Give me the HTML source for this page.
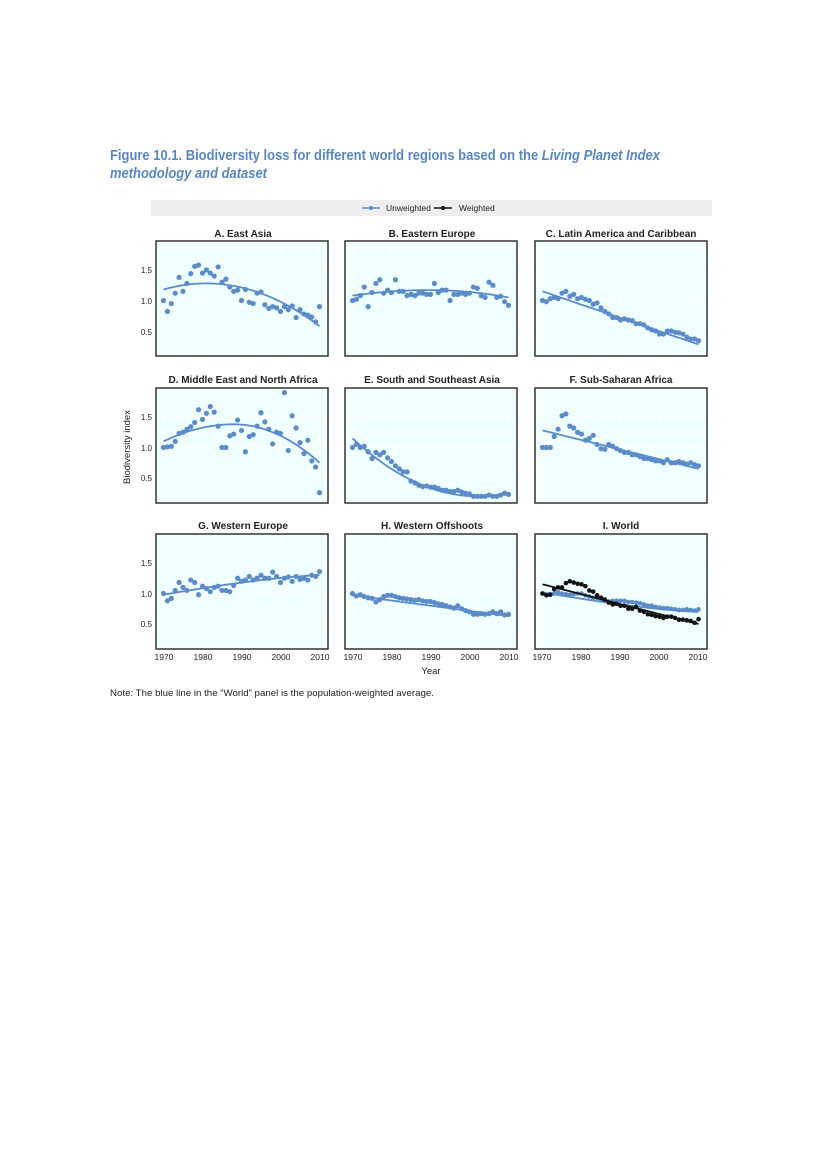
<!DOCTYPE html>
<html><head><meta charset="utf-8">
<style>
body{margin:0;background:#fff;}
svg{display:block;}
text{font-family:"Liberation Sans",sans-serif;}
</style></head>
<body>
<svg id="s" width="827" height="1169" xmlns="http://www.w3.org/2000/svg">
<text x="110" y="160" font-size="14.5" font-weight="bold" fill="#5a86c0" textLength="550" lengthAdjust="spacingAndGlyphs">Figure 10.1. Biodiversity loss for different world regions based on the <tspan font-style="italic">Living Planet Index</tspan></text>
<text x="110" y="178" font-size="14.5" font-weight="bold" font-style="italic" fill="#5a86c0" textLength="157" lengthAdjust="spacingAndGlyphs">methodology and dataset</text>
<rect x="151" y="200" width="561" height="16" fill="#eeeeee"/>
<line x1="362" y1="208" x2="380" y2="208" stroke="#5b8bc9" stroke-width="1.5"/><circle cx="371" cy="208" r="2" fill="#5b8bc9"/>
<text x="386" y="211" font-size="8.5" fill="#222">Unweighted</text>
<line x1="434" y1="208" x2="452" y2="208" stroke="#111" stroke-width="1.5"/><circle cx="443" cy="208" r="2" fill="#111"/>
<text x="459" y="211" font-size="8.5" fill="#222">Weighted</text>
<text x="130" y="447" font-size="9.5" fill="#222" text-anchor="middle" transform="rotate(-90 130 447)">Biodiversity index</text>
<text x="431" y="674" font-size="9.5" fill="#222" text-anchor="middle">Year</text>
<text x="110" y="696" font-size="9.5" fill="#222" textLength="324" lengthAdjust="spacingAndGlyphs">Note: The blue line in the “World” panel is the population-weighted average.</text>
<g id="titles" font-size="10" font-weight="bold" fill="#222" text-anchor="middle">
<text x="243" y="237">A. East Asia</text>
<text x="432" y="237">B. Eastern Europe</text>
<text x="621" y="237">C. Latin America and Caribbean</text>
<text x="243" y="383">D. Middle East and North Africa</text>
<text x="432" y="383">E. South and Southeast Asia</text>
<text x="621" y="383">F. Sub-Saharan Africa</text>
<text x="243" y="529">G. Western Europe</text>
<text x="432" y="529">H. Western Offshoots</text>
<text x="621" y="529">I. World</text>
</g>
<g font-size="8" fill="#222" text-anchor="end">
<text x="152" y="273">1.5</text><text x="152" y="304">1.0</text><text x="152" y="335">0.5</text>
<text x="152" y="420">1.5</text><text x="152" y="451">1.0</text><text x="152" y="481">0.5</text>
<text x="152" y="566">1.5</text><text x="152" y="597">1.0</text><text x="152" y="627">0.5</text>
</g>
<g font-size="8.5" fill="#222" text-anchor="middle">
<text x="164" y="660">1970</text><text x="203" y="660">1980</text><text x="242" y="660">1990</text><text x="281" y="660">2000</text><text x="320" y="660">2010</text>
<text x="353" y="660">1970</text><text x="392" y="660">1980</text><text x="431" y="660">1990</text><text x="470" y="660">2000</text><text x="509" y="660">2010</text>
<text x="542" y="660">1970</text><text x="581" y="660">1980</text><text x="620" y="660">1990</text><text x="659" y="660">2000</text><text x="698" y="660">2010</text>
</g>
<g id="plots"></g>
</svg>
<script>
var NS="http://www.w3.org/2000/svg",g=document.getElementById("plots");
var L=[156,345,535],T=[241,388,534];
function el(n,a){var e=document.createElementNS(NS,n);for(var k in a)e.setAttribute(k,a[k]);g.appendChild(e);return e;}
var B="#5b8bc9",K="#111";
var P=[
[0,0,[[1.0,.82,.95,1.12,1.38,1.15,1.28,1.44,1.56,1.58,1.45,1.5,1.45,1.4,1.55,1.3,1.35,1.22,1.15,1.17,1.0,1.18,.97,.95,1.12,1.14,.93,.87,.9,.88,.82,.9,.85,.91,.72,.85,.78,.76,.73,.65,.9],[1.18,1.28,.58,1981]]],
[0,1,[[1.0,1.02,1.08,1.22,.9,1.13,1.28,1.34,1.12,1.17,1.13,1.34,1.15,1.15,1.08,1.1,1.08,1.12,1.12,1.1,1.1,1.28,1.13,1.17,1.17,1.0,1.1,1.1,1.12,1.1,1.12,1.22,1.2,1.08,1.05,1.3,1.25,1.05,1.07,.98,.92],[1.08,1.17,1.05,1990]]],
[0,2,[[1.0,.98,1.03,1.05,1.03,1.12,1.15,1.07,1.1,1.03,1.05,1.02,1.0,.94,.96,.88,.82,.78,.72,.72,.68,.7,.68,.67,.62,.62,.6,.55,.52,.5,.45,.45,.5,.5,.48,.47,.45,.4,.37,.37,.34],[1.15,null,.28]]],
[1,0,[[1.0,1.01,1.02,1.1,1.23,1.25,1.3,1.34,1.41,1.62,1.46,1.56,1.67,1.58,1.35,1.0,1.0,1.19,1.22,1.45,1.28,.93,1.18,1.21,1.35,1.57,1.42,1.3,1.06,1.25,1.23,1.9,.95,1.52,1.32,1.08,.9,1.12,.78,.68,.26],[1.1,1.38,.75,1988]]],
[1,1,[[1.0,1.05,1.0,1.02,.93,.82,.92,.88,.92,.83,.77,.7,.65,.6,.6,.45,.42,.38,.36,.37,.35,.35,.33,.3,.3,.28,.28,.3,.27,.25,.24,.2,.2,.2,.2,.22,.2,.2,.22,.25,.23],[1.15,.2,.25,2002]]],
[1,2,[[1.0,1.0,1.0,1.18,1.3,1.52,1.55,1.35,1.32,1.25,1.22,1.12,1.15,1.2,1.05,.98,.97,1.05,1.02,.98,.95,.92,.92,.88,.88,.85,.82,.82,.8,.78,.78,.75,.8,.75,.75,.77,.75,.73,.75,.72,.7],[1.28,null,.65]]],
[2,0,[[1.0,.88,.92,1.05,1.18,1.1,1.05,1.22,1.18,.98,1.12,1.08,1.03,1.1,1.12,1.05,1.05,1.03,1.13,1.25,1.2,1.22,1.28,1.22,1.25,1.3,1.25,1.25,1.35,1.28,1.18,1.25,1.27,1.2,1.28,1.23,1.25,1.22,1.3,1.28,1.36],[.98,null,1.3,0,1]]],
[2,1,[[1.0,.96,.98,.95,.93,.92,.86,.9,.95,.97,.97,.95,.93,.92,.91,.9,.89,.9,.88,.87,.87,.85,.83,.82,.8,.78,.76,.8,.75,.72,.7,.66,.66,.67,.66,.67,.7,.67,.7,.65,.66],[.97,null,.63]]],
];
function q(fit,t){var a=fit[0],m=fit[1],b=fit[2];if(m===null){if(fit[4])return a+(b-a)*(1-Math.pow(1-t/40,1.4));return a+(b-a)*t/40;}var p=fit[3]-1970;
if(t<=p){var u=t/p;return m-(m-a)*(1-u)*(1-u);}var u=(t-p)/(40-p);return m-(m-b)*u*u;}
function draw(r,c,data,fit,col,rad){var l=L[c],tp=T[r];
var X=function(t){return l+7.5+t*3.9},Y=function(v){return tp+29+(1.5-v)*61};
var d="";for(var t=0;t<=40;t+=.5)d+=(t?"L":"M")+X(t).toFixed(1)+","+Y(q(fit,t)).toFixed(1);
el("path",{d:d,fill:"none",stroke:col,"stroke-width":1.8});
for(var i=0;i<data.length;i++)el("circle",{cx:X(i),cy:Y(data[i]),r:rad,fill:col});}
for(var r=0;r<3;r++)for(var c=0;c<3;c++){var l=L[c],tp=T[r];
el("rect",{x:l,y:tp,width:172,height:115,fill:"#f0ffff"});
for(var k=0;k<5;k++)el("line",{x1:l+7.5+k*39,x2:l+7.5+k*39,y1:tp,y2:tp+115,stroke:"#fff","stroke-width":1});
for(var k=0;k<3;k++)el("line",{x1:l,x2:l+172,y1:tp+29+k*30.5,y2:tp+29+k*30.5,stroke:"#fff","stroke-width":1});}
P.forEach(function(p){draw(p[0],p[1],p[2][0],p[2][1],B,2.6);});
var wb=[1.0,.98,.99,1.0,1.02,1.0,.99,.98,.99,1.0,1.0,.97,.95,.93,.93,.9,.88,.87,.88,.88,.88,.88,.86,.86,.85,.84,.82,.8,.8,.78,.77,.76,.76,.75,.74,.73,.73,.74,.73,.72,.74];
var wk=[1.0,.97,.98,1.07,1.1,1.1,1.17,1.2,1.18,1.16,1.15,1.12,1.05,1.03,.97,.93,.9,.85,.82,.83,.8,.8,.75,.75,.78,.72,.7,.66,.65,.63,.62,.6,.62,.62,.6,.57,.57,.56,.55,.52,.58];
draw(2,2,wb,[1.02,null,.7,0,1],B,2.3);
draw(2,2,wk,[1.15,null,.5],K,2.3);
for(var r=0;r<3;r++)for(var c=0;c<3;c++)el("rect",{x:L[c],y:T[r],width:172,height:115,fill:"none",stroke:"#333","stroke-width":1.5});
</script>
</body></html>
